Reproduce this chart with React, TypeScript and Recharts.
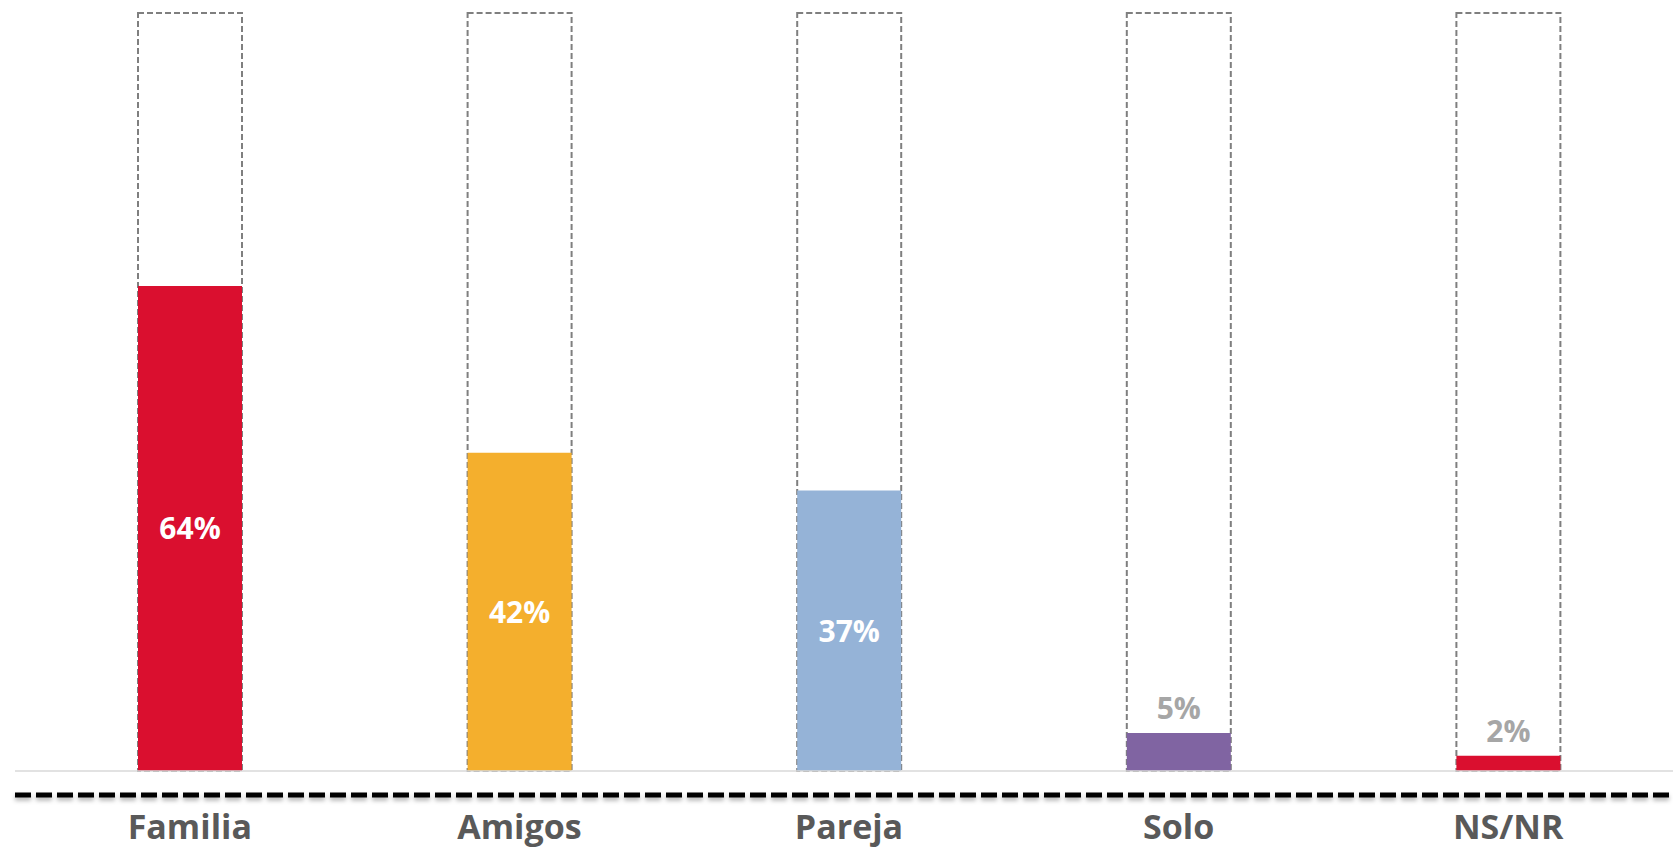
import React from 'react';
import { BarChart, Bar, XAxis, YAxis, Cell, LabelList } from 'recharts';

const categories = ['Familia', 'Amigos', 'Pareja', 'Solo', 'NS/NR'];
const values = [64, 42, 37, 5, 2];
const colors = ['#DA0F2F', '#F4AF2D', '#95B3D7', '#8064A2', '#DA0F2F'];

const data = categories.map((name, i) => ({ name, value: values[i] }));

const FONT = '"Open Sans", "DejaVu Sans", sans-serif';

const renderLabel = (props: any) => {
  const { x, y, width, height, value } = props;
  const cx = Number(x) + Number(width) / 2;
  if (Number(value) >= 20) {
    return (
      <text
        x={cx}
        y={Number(y) + Number(height) / 2}
        dy={11}
        textAnchor="middle"
        fill="#FFFFFF"
        fontFamily={FONT}
        fontWeight={700}
        fontSize={30}
      >
        {value}%
      </text>
    );
  }
  return (
    <text
      x={cx}
      y={Number(y)}
      dy={-14}
      textAnchor="middle"
      fill="#A6A6A6"
      fontFamily={FONT}
      fontWeight={700}
      fontSize={30}
    >
      {value}%
    </text>
  );
};

const renderTick = (props: any) => {
  const { x, y, payload } = props;
  return (
    <text
      x={x}
      y={y}
      dy={44}
      textAnchor="middle"
      fill="#595959"
      fontFamily={FONT}
      fontWeight={700}
      fontSize={34}
    >
      {payload.value}
    </text>
  );
};

export default function App() {
  return (
    <div style={{ position: 'absolute', left: 0, top: 0, width: 1673, height: 848, background: '#fff' }}>
      <BarChart
        width={1673}
        height={848}
        data={data}
        margin={{ top: 13, right: 0, bottom: 0, left: 15 }}
        barSize={104}
      >
        <defs>
          <filter id="lineShadow" filterUnits="userSpaceOnUse" x="0" y="0" width="1673" height="848">
            <feDropShadow dx="0" dy="3" stdDeviation="2" floodColor="#000" floodOpacity="0.3" />
          </filter>
        </defs>
        <YAxis hide domain={[0, 100]} />
        <XAxis
          dataKey="name"
          height={24}
          padding={{ left: 10, right: 0 }}
          tick={false}
          tickLine={false}
          axisLine={{ stroke: '#D9D9D9', strokeWidth: 1.5 }}
        />
        <XAxis
          xAxisId="labels"
          dataKey="name"
          height={53}
          padding={{ left: 10, right: 0 }}
          tickLine={false}
          tickSize={0}
          tickMargin={0}
          tick={renderTick}
          axisLine={{ stroke: '#000000', strokeWidth: 5, strokeDasharray: '16 5', filter: 'url(#lineShadow)' }}
        />
        <Bar
          dataKey="value"
          isAnimationActive={false}
          background={{ fill: 'none', stroke: '#7F7F7F', strokeWidth: 2, strokeDasharray: '6 3' }}
        >
          {data.map((d, i) => (
            <Cell key={d.name} fill={colors[i]} />
          ))}
          <LabelList dataKey="value" content={renderLabel} />
        </Bar>
      </BarChart>
    </div>
  );
}
